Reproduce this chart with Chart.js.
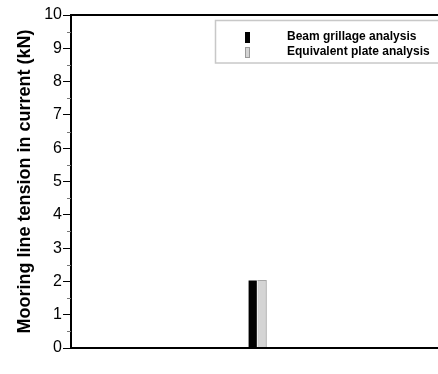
<!DOCTYPE html>
<html>
<head>
<meta charset="utf-8">
<script src="https://cdn.jsdelivr.net/npm/chart.js@4"></script>
<style>
  html, body { margin: 0; padding: 0; background: #fff; overflow: hidden; }
  #wrap { width: 438px; height: 374px; overflow: hidden; }
</style>
</head>
<body>
<div id="wrap"><canvas id="chart_bar" width="444" height="374"></canvas></div>
<script>
// datos del grafico
var categorias = [""];
var serie_nombres = ["Beam grillage analysis", "Equivalent plate analysis"];
var beam_grillage = [2.03];
var equivalent_plate = [2.03];
var y_ticks = [0, 1, 2, 3, 4, 5, 6, 7, 8, 9, 10];

// marco, ticks menores y leyenda a mano
var marcoPlugin = {
	id: 'marco',
	afterDraw: function(chart){
		var ctx = chart.ctx;
		var a = chart.chartArea;
		var y = chart.scales.y;
		ctx.save();
		ctx.strokeStyle = '#000';
		ctx.lineWidth = 2;
		ctx.beginPath();
		ctx.moveTo(a.left, a.top); ctx.lineTo(chart.width, a.top);
		ctx.moveTo(a.left, a.bottom); ctx.lineTo(chart.width, a.bottom);
		ctx.stroke();
		// ticks menores
		ctx.lineWidth = 1;
		ctx.strokeStyle = '#777';
		for (var i = 0; i < y_ticks.length - 1; i++) {
			var py = Math.round(y.getPixelForValue(y_ticks[i] + 0.5)) + 0.5;
			ctx.beginPath();
			ctx.moveTo(a.left - 4, py); ctx.lineTo(a.left, py);
			ctx.stroke();
		}
		// leyenda
		ctx.fillStyle = '#fff';
		ctx.fillRect(215, 21, 240, 42);
		ctx.strokeStyle = '#c8c8c8';
		ctx.lineWidth = 1.5;
		ctx.strokeRect(215.5, 20.5, 240, 42.5);
		var ds = chart.data.datasets;
		ctx.font = 'bold 12px "Liberation Sans", Arial, sans-serif';
		ctx.textBaseline = 'middle';
		for (var j = 0; j < ds.length; j++) {
			var cy = 37 + j * 15;
			ctx.fillStyle = ds[j].backgroundColor;
			ctx.fillRect(245, cy - 5, 5, 11);
			if (j == 1) {
				ctx.strokeStyle = '#9a9a9a';
				ctx.lineWidth = 1;
				ctx.strokeRect(245.5, cy - 4.5, 4, 10);
			}
			ctx.fillStyle = '#000';
			ctx.fillText(ds[j].label, 287, cy);
		}
		ctx.restore();
	}
};

var datos = {
	type: "bar",
	data: {
		labels: categorias,
		datasets: [{
			label: serie_nombres[0],
			data: beam_grillage,
			backgroundColor: "#000000",
			borderColor: "#ffffff",
			borderWidth: {left: 0, right: 1, top: 0, bottom: 0},
			borderSkipped: false,
			barThickness: 9
		}, {
			label: serie_nombres[1],
			data: equivalent_plate,
			backgroundColor: "#d4d4d4",
			borderColor: "#a6a6a6",
			borderWidth: {left: 1, right: 1, top: 1, bottom: 0},
			borderSkipped: false,
			barThickness: 9
		}]
	},
	options: {
		responsive: false,
		animation: false,
		layout: { padding: { top: 15, right: 0, bottom: 0, left: 0 } },
		plugins: {
			legend: { display: false },
			tooltip: { enabled: false }
		},
		scales: {
			x: {
				grid: { display: false },
				border: { display: false },
				ticks: { display: false },
				afterFit: function(scale){ scale.height = 26; }
			},
			y: {
				min: 0,
				max: 10,
				afterBuildTicks: function(scale){
					scale.ticks = y_ticks.map(function(v){ return {value: v}; });
				},
				grid: { drawOnChartArea: false, tickLength: 8, color: '#000', lineWidth: 1 },
				border: { color: '#000', width: 2 },
				ticks: {
					color: '#000',
					padding: 1,
					font: { family: '"Liberation Sans", Arial, sans-serif', size: 16 }
				},
				title: {
					display: true,
					text: "Mooring line tension in current (kN)",
					color: '#000',
					padding: { top: 14, bottom: 0 },
					font: { family: '"Liberation Sans", Arial, sans-serif', size: 18, weight: 'bold' }
				},
				afterFit: function(scale){ scale.width = 71; }
			}
		}
	},
	plugins: [marcoPlugin]
};

var canvas = document.getElementById('chart_bar').getContext('2d');
window.barras = new Chart(canvas, datos);
</script>
</body>
</html>
